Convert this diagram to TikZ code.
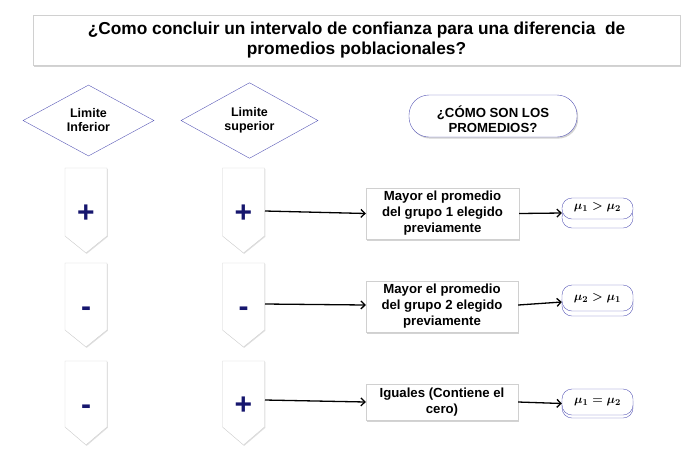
\documentclass[tikz,border=0pt]{standalone}
\usepackage{fontspec}
\setmainfont{Liberation Sans}
\usepackage{amsmath,bm}
\usetikzlibrary{shapes.geometric,shadows,arrows.meta}
\definecolor{dblue}{HTML}{5A5AB8}
\definecolor{navy}{HTML}{16166E}
\definecolor{lgray}{HTML}{D0D0D0}
\tikzset{
  shad/.style={drop shadow={shadow xshift=1.2pt,shadow yshift=-1.6pt,opacity=0.35,fill=gray}},
  titlebox/.style={draw=lgray,fill=white,shad,inner sep=0pt,align=center,
    font=\bfseries\fontsize{17.3}{20}\selectfont},
  decision/.style={diamond,draw=dblue,fill=white,inner sep=0pt,align=center,
    font=\bfseries\fontsize{12.5}{14}\selectfont},
  pill/.style={draw=dblue,fill=white,rounded corners=20pt,inner sep=0pt,align=center,
    font=\bfseries\fontsize{13.2}{15}\selectfont,shad},
  resbox/.style={draw=lgray,fill=white,shad,inner sep=0pt,align=center,
    font=\bfseries\fontsize{13.2}{16}\selectfont},
  chev/.style={draw=lgray,fill=white,drop shadow={shadow xshift=0.8pt,shadow yshift=-0.8pt,opacity=0.25,fill=gray}},
  sign/.style={text=navy,font=\bfseries\fontsize{30}{30}\selectfont,anchor=base,inner sep=0pt},
  mpill/.style={draw=dblue,fill=white,rounded corners=10pt},
  mtext/.style={inner sep=0pt,font=\boldmath\fontsize{12.5}{14}\selectfont},
  conn/.style={line width=1.3pt,-{Straight Barb[length=4pt,width=8pt]}},
}
\begin{document}
\begin{tikzpicture}[x=1pt,y=-1pt]
\useasboundingbox (0,0) rectangle (682,467);
% title
\node[titlebox,minimum width=647pt,minimum height=50pt] (title) at (356.5,40)
  {¿Como concluir un intervalo de confianza para una diferencia\ \ de\\promedios poblacionales?};
% diamonds
\node[decision,minimum width=131pt,minimum height=71pt] (d1) at (88.5,120.5) {Limite\\Inferior};
\node[decision,minimum width=137pt,minimum height=71pt] (d2) at (249.5,120.5) {Limite\\superior};
% pill
\node[pill,minimum width=168pt,minimum height=42pt] (q) at (493,116) {};
\node[inner sep=0pt,align=center,font=\bfseries\fontsize{13.2}{15}\selectfont] (qt) at (493,119) {¿CÓMO SON LOS\\PROMEDIOS?};
% chevrons
\foreach \cx/\t/\s/\p in {86/168/236/253,86/263/330/347,86/361/427/445,
                          243.5/168/236/253,243.5/263/330/347,243.5/361/427/445}{
  \draw[chev] (\cx-21,\t) -- (\cx+21,\t) -- (\cx+21,\s) -- (\cx,\p) -- (\cx-21,\s) -- cycle;
}
% signs
\node[sign] (sa1) at (86,222) {+};
\node[sign] (sb1) at (243.5,222) {+};
\node[sign] (sa2) at (86,316) {-};
\node[sign] (sb2) at (243.5,316) {-};
\node[sign] (sa3) at (86,414) {-};
\node[sign] (sb3) at (243.5,414) {+};
% chevron edges
\coordinate (c1) at (265,211);
\coordinate (c2) at (265,304);
\coordinate (c3) at (265,400);
% result boxes
\node[resbox,minimum width=153pt,minimum height=51pt] (r1) at (442.5,213.5)
  {Mayor el promedio\\del grupo 1 elegido\\previamente};
\node[resbox,minimum width=152pt,minimum height=51pt] (r2) at (442,306.5)
  {Mayor el promedio\\del grupo 2 elegido\\previamente};
\node[resbox,minimum width=152pt,minimum height=36pt] (r3) at (442,402)
  {Iguales (Contiene el\\cero)};
% math pills
\draw[mpill] (562,207) rectangle (633,228);
\draw[mpill] (562,198) rectangle (633,219);
\node[mtext] (m1) at (597.5,207.5) {$\mu_1 > \mu_2$};
\node[inner sep=0pt,minimum width=71pt,minimum height=30pt] (o1) at (597.5,213) {};
\draw[mpill] (562,290) rectangle (633,316);
\draw[mpill] (562,285) rectangle (633,311);
\node[mtext] (m2) at (597.5,298) {$\mu_2 > \mu_1$};
\node[inner sep=0pt,minimum width=71pt,minimum height=31pt] (o2) at (597.5,300.5) {};
\draw[mpill] (562,392) rectangle (633,418);
\draw[mpill] (562,389) rectangle (633,415);
\node[mtext] (m3) at (597.5,402) {$\mu_1 = \mu_2$};
\node[inner sep=0pt,minimum width=71pt,minimum height=29pt] (o3) at (597.5,403.5) {};
% connectors
\draw[conn] (c1) -- (r1.west);
\draw[conn] (c2) -- ([yshift=1.5pt]r2.west);
\draw[conn] (c3) -- (r3.west);
\draw[conn] (r1.east) -- (o1.west);
\draw[conn] ([yshift=1.5pt]r2.east) -- ([yshift=-1.5pt]o2.west);
\draw[conn] (r3.east) -- (o3.west);
\end{tikzpicture}
\end{document}
